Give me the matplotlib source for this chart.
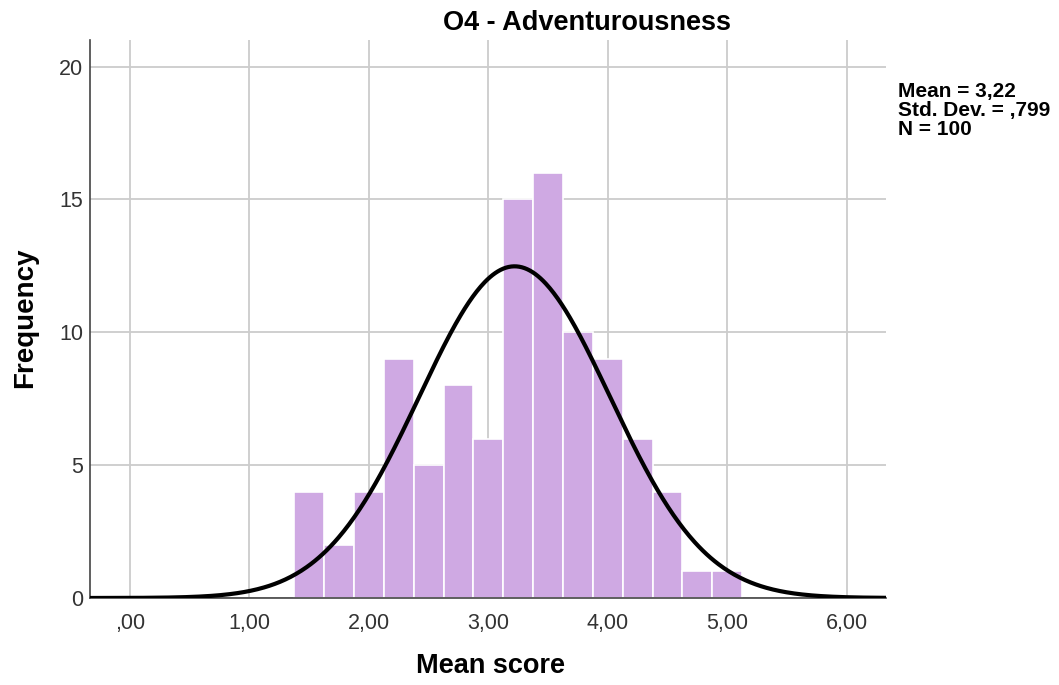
import numpy as np
import matplotlib.pyplot as plt

# ------------ Data ------------
BIN_START = 1.375
BIN_WIDTH = 0.25
COUNTS = [4, 2, 4, 9, 5, 8, 6, 15, 16, 10, 9, 6, 4, 1, 1]

MEAN = 3.22
STD = 0.799
N = 100

X_TICKS = [0, 1, 2, 3, 4, 5, 6]
X_TICKLABELS = [",00", "1,00", "2,00", "3,00", "4,00", "5,00", "6,00"]
Y_TICKS = [0, 5, 10, 15, 20]

BAR_COLOR = "#cfa9e3"
GRID_COLOR = "#cccccc"
FONT = "Liberation Sans"

fig = plt.figure(figsize=(10.59, 6.85), dpi=100)
ax = fig.add_axes([90 / 1059, 1 - 598 / 685, (886 - 90) / 1059, (598 - 40) / 685])

edges = BIN_START + BIN_WIDTH * np.arange(len(COUNTS))
ax.bar(edges, COUNTS, width=BIN_WIDTH, align="edge", color=BAR_COLOR,
       edgecolor="white", linewidth=1.2, zorder=2)

# fitted normal curve from the shown summary stats
xmin, xmax = -0.335, 6.33
xs = np.linspace(xmin, xmax, 600)
ys = N * BIN_WIDTH / (STD * np.sqrt(2 * np.pi)) * np.exp(-0.5 * ((xs - MEAN) / STD) ** 2)
ax.plot(xs, ys, color="black", lw=3, zorder=3, solid_capstyle="butt")

ax.set_xlim(xmin, xmax)
ax.set_ylim(0, 21.0)
ax.set_xticks(X_TICKS)
ax.set_xticklabels(X_TICKLABELS)
ax.set_yticks(Y_TICKS)
ax.tick_params(axis="x", length=0, pad=11, labelsize=15.5, colors="#333333")
ax.tick_params(axis="y", length=0, pad=5, labelsize=15.5, colors="#333333")
for lbl in ax.get_xticklabels() + ax.get_yticklabels():
    lbl.set_fontfamily(FONT)
ax.grid(True, color=GRID_COLOR, lw=1.3, zorder=0)
ax.set_axisbelow(True)
for s in ("top", "right"):
    ax.spines[s].set_visible(False)
for s in ("left", "bottom"):
    ax.spines[s].set_color("#444444")
    ax.spines[s].set_linewidth(1.2)

fig.text(587 / 1059, 1 - 23 / 685, "O4 - Adventurousness", ha="center", va="center",
         fontsize=19.5, fontweight="bold", family=FONT)
fig.text(490 / 1059, 1 - 666 / 685, "Mean score", ha="center", va="center",
         fontsize=19.5, fontweight="bold", family=FONT)
fig.text(25 / 1059, 1 - 318 / 685, "Frequency", ha="center", va="center",
         rotation=90, fontsize=20, fontweight="bold", family=FONT)
fig.text(898 / 1059, 1 - 82 / 685,
         f"Mean = 3,22\nStd. Dev. = ,799\nN = {N}",
         ha="left", va="top", fontsize=15, fontweight="bold", family=FONT,
         linespacing=1.0)

fig.savefig("out.png", dpi=100)
